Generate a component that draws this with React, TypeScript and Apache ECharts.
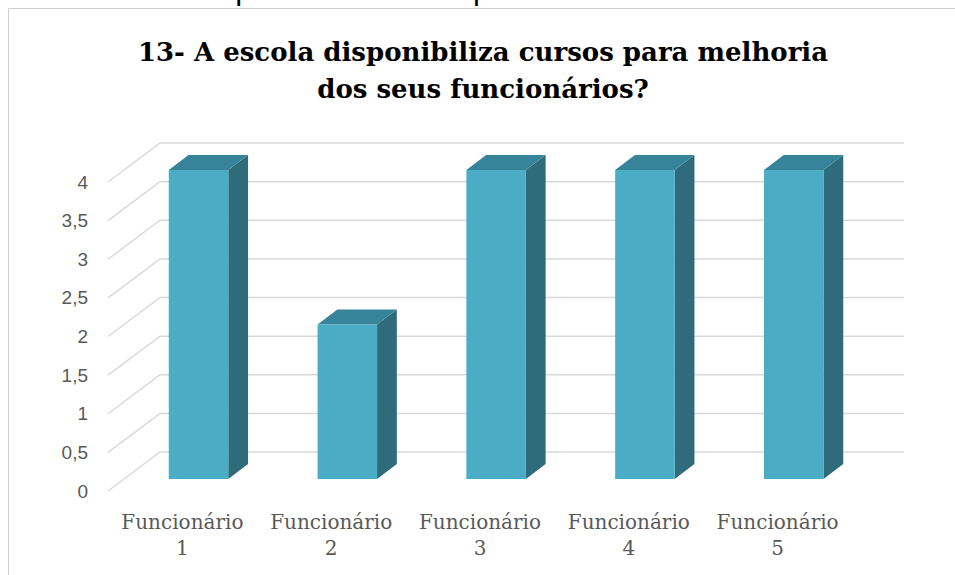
import React, { useEffect, useRef } from "react";
import * as echarts from "echarts";

const categories = ["Funcionário\n1", "Funcionário\n2", "Funcionário\n3", "Funcionário\n4", "Funcionário\n5"];
const values = [4, 2, 4, 4, 4];
const yTicks = [0, 0.5, 1, 1.5, 2, 2.5, 3, 3.5, 4];
const titleText = "13- A escola disponibiliza cursos para melhoria\ndos seus funcionários?";
const clippedLine = "13- A escola disponibiliza cursos para melhoria dos seus funcionários";

const DEPTH = [52, -39];
const BAR_FRONT = 0.31;
const BAR_BACK = 0.69;
const BAR_RATIO = 0.4;
const FRONT = "#4BACC6";
const TOP = "#37849A";
const SIDE = "#2F6C7B";
const GRID = "#D9D9D9";

export default function App() {
  const ref = useRef<HTMLDivElement>(null);
  useEffect(() => {
    if (!ref.current) return;
    const chart = echarts.init(ref.current, null, { renderer: "svg" });
    chart.setOption({
      animation: false,
      backgroundColor: "#ffffff",
      grid: { left: 108, right: 103, top: 182, bottom: 84, containLabel: false },
      xAxis: {
        type: "category",
        data: categories,
        axisLine: { show: false },
        axisTick: { show: false },
        axisLabel: {
          color: "#595959",
          fontFamily: "DejaVu Serif",
          fontSize: 20,
          lineHeight: 26,
          margin: 18,
          interval: 0,
        },
      },
      yAxis: {
        type: "value",
        min: 0,
        max: 4,
        interval: 0.5,
        axisLine: { show: false },
        axisTick: { show: false },
        splitLine: { show: false },
        axisLabel: {
          color: "#595959",
          fontFamily: "Liberation Sans",
          fontSize: 19,
          margin: 20,
          formatter: (v: number) => String(v).replace(".", ","),
        },
      },
      graphic: [
        {
          type: "rect",
          shape: { x: 8.5, y: 8.5, width: 1000, height: 600 },
          style: { fill: "none", stroke: "#D0D0D0", lineWidth: 1 },
          z: 0,
        },
        {
          type: "text",
          x: 18,
          y: 3.5,
          style: {
            text: clippedLine,
            fill: "#000",
            font: "31px 'Liberation Sans'",
            verticalAlign: "bottom",
          },
        },
        {
          type: "text",
          x: 483,
          y: 33,
          style: {
            text: titleText,
            fill: "#000",
            font: "bold 26px 'DejaVu Serif'",
            align: "center",
            lineHeight: 37,
          },
        },
      ],
      series: [
        {
          type: "custom",
          z: 1,
          silent: true,
          data: yTicks.map((t) => [0, t]),
          encode: { x: 0, y: 1 },
          renderItem: (params: any, api: any) => {
            const cs = params.coordSys;
            const y = api.coord([0, api.value(1)])[1];
            return {
              type: "polyline",
              shape: {
                points: [
                  [cs.x, y],
                  [cs.x + DEPTH[0], y + DEPTH[1]],
                  [cs.x + cs.width + DEPTH[0], y + DEPTH[1]],
                ],
              },
              style: { stroke: GRID, lineWidth: 1.5, fill: "none" },
            };
          },
        },
        {
          type: "custom",
          z: 2,
          data: values.map((v, i) => [i, v]),
          encode: { x: 0, y: 1 },
          renderItem: (params: any, api: any) => {
            const i = api.value(0);
            const v = api.value(1);
            const base = api.coord([i, 0]);
            const top = api.coord([i, v]);
            const bw = api.size([1, 0])[0] * BAR_RATIO;
            const xl = base[0] - bw / 2;
            const xr = base[0] + bw / 2;
            const f = [DEPTH[0] * BAR_FRONT, DEPTH[1] * BAR_FRONT];
            const b = [DEPTH[0] * BAR_BACK, DEPTH[1] * BAR_BACK];
            return {
              type: "group",
              children: [
                {
                  type: "polygon",
                  shape: {
                    points: [
                      [xr + f[0], top[1] + f[1]],
                      [xr + b[0], top[1] + b[1]],
                      [xr + b[0], base[1] + b[1]],
                      [xr + f[0], base[1] + f[1]],
                    ],
                  },
                  style: { fill: SIDE },
                },
                {
                  type: "polygon",
                  shape: {
                    points: [
                      [xl + f[0], top[1] + f[1]],
                      [xr + f[0], top[1] + f[1]],
                      [xr + b[0], top[1] + b[1]],
                      [xl + b[0], top[1] + b[1]],
                    ],
                  },
                  style: { fill: TOP },
                },
                {
                  type: "rect",
                  shape: { x: xl + f[0], y: top[1] + f[1], width: bw, height: base[1] - top[1] },
                  style: { fill: FRONT },
                },
              ],
            };
          },
        },
      ],
    });
    return () => chart.dispose();
  }, []);
  return (
    <div
      ref={ref}
      style={{ position: "fixed", left: 0, top: 0, width: 955, height: 575 }}
    />
  );
}
